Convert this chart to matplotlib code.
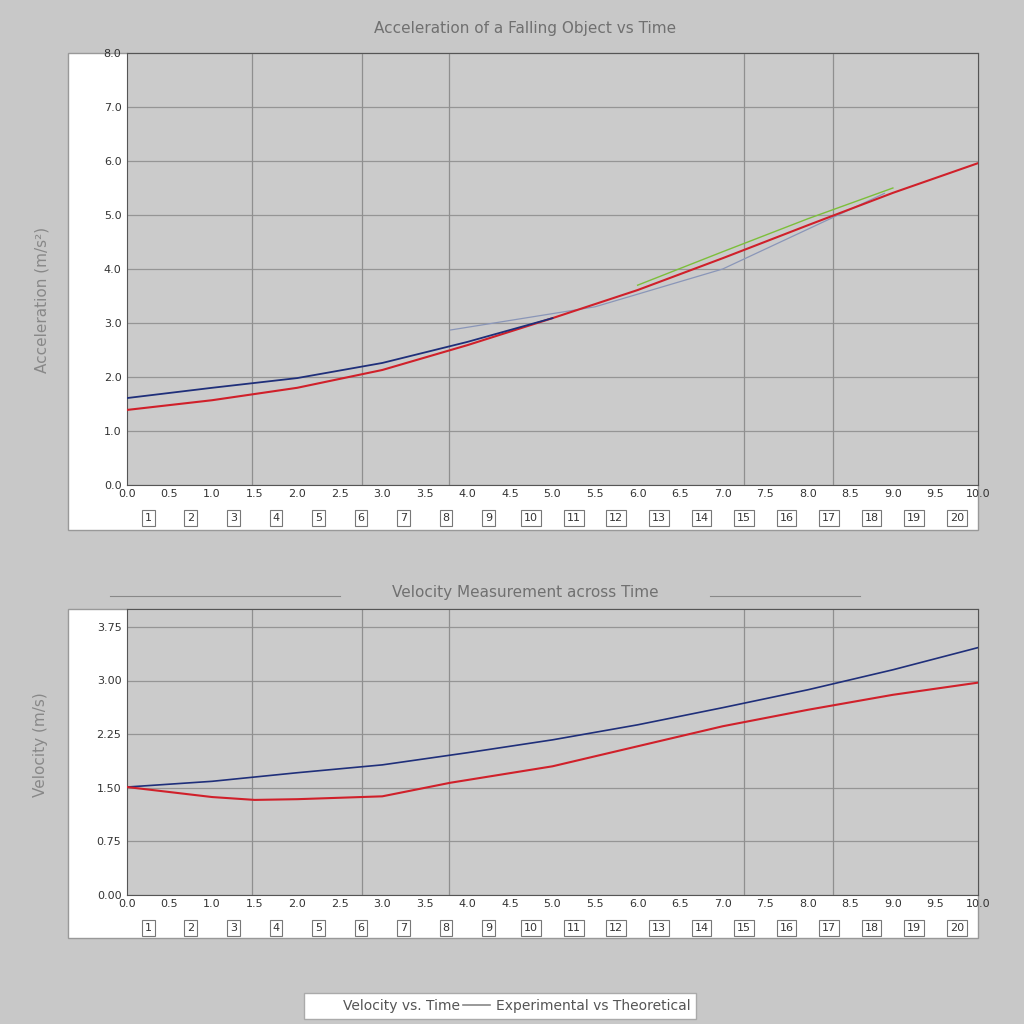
import numpy as np
import matplotlib.pyplot as plt
from matplotlib.patches import Rectangle
from matplotlib.lines import Line2D

BG = '#c8c8c8'
PLOT_BG = '#cbcbcb'
RED = '#d0202a'
BLUE = '#1f2f7a'
GREEN = '#7cbf3a'

# top panel: acceleration
T_RED = [0, 1, 2, 3, 4, 5, 6, 7, 8, 9, 10]
ACC_RED = [1.39, 1.57, 1.80, 2.13, 2.59, 3.09, 3.61, 4.20, 4.81, 5.41, 5.96]
T_BLUE = [0, 1, 2, 3, 4, 5]
ACC_BLUE = [1.61, 1.80, 1.98, 2.26, 2.65, 3.09]
T_GREEN = [6, 7, 8, 9]
ACC_GREEN = [3.70, 4.32, 4.93, 5.50]
T_GREY = [3.8, 5.5, 7.0, 8.9]
ACC_GREY = [2.87, 3.30, 4.00, 5.40]

# bottom panel: velocity
T_VEL = [0, 1, 2, 3, 4, 5, 6, 7, 8, 9, 10]
VEL_BLUE = [1.51, 1.59, 1.71, 1.82, 1.99, 2.17, 2.38, 2.62, 2.87, 3.15, 3.46]
T_VEL_RED = [0, 1, 1.5, 2, 3, 3.8, 5, 6, 7, 8, 9, 10]
VEL_RED = [1.51, 1.37, 1.33, 1.34, 1.38, 1.57, 1.80, 2.08, 2.36, 2.59, 2.80, 2.97]

GRID_T = [1.47, 2.76, 3.78, 7.25, 8.30]
X_TICKS = np.arange(0, 10.01, 0.5)
X_LABELS = ['%.1f' % v for v in X_TICKS]
X_MINOR = np.arange(0.25, 10, 0.5)
X_MINOR_LABELS = ['%d' % (i + 1) for i in range(len(X_MINOR))]

fig = plt.figure(figsize=(10.24, 10.24), dpi=100, facecolor=BG)

def fx(px):
    return px / 1024

def fy(py):
    return 1 - py / 1024

# white frames behind the axes
for (x0, y0, x1, y1) in [(68, 53, 978, 530), (68, 609, 978, 938)]:
    fig.add_artist(Rectangle((fx(x0), fy(y1)), fx(x1 - x0), (y1 - y0) / 1024,
                             transform=fig.transFigure, facecolor='white',
                             edgecolor='#999999', lw=1, zorder=0))

ax1 = fig.add_axes([fx(127), fy(485), fx(851), 432 / 1024])
ax2 = fig.add_axes([fx(127), fy(895), fx(851), 286 / 1024])

for ax in (ax1, ax2):
    ax.set_facecolor(PLOT_BG)
    ax.set_xlim(0, 10)
    for t in GRID_T:
        ax.axvline(t, color='#8f8f8f', lw=0.9, zorder=1)
    ax.grid(axis='y', color='#959595', lw=0.9)
    ax.set_axisbelow(True)
    for s in ax.spines.values():
        s.set_color('#555555')
    ax.set_xticks(X_TICKS)
    ax.set_xticklabels(X_LABELS, fontsize=8, color='#333333')
    ax.set_xticks(X_MINOR, minor=True)
    ax.set_xticklabels(X_MINOR_LABELS, minor=True, fontsize=8, color='#333333')
    ax.tick_params(axis='x', which='major', length=0, pad=3)
    ax.tick_params(axis='x', which='minor', length=0, pad=20)
    for lbl in ax.get_xticklabels(minor=True):
        lbl.set_bbox(dict(facecolor='white', edgecolor='#777777', lw=0.8, pad=2))
    ax.tick_params(axis='y', length=0, labelsize=8, labelcolor='#333333', pad=4)

ax1.set_ylim(0, 8)
ax1.set_yticks(np.arange(0, 8.1, 1))
ax1.set_yticklabels(['%.1f' % v for v in np.arange(0, 8.1, 1)])
ax1.plot(T_GREY, ACC_GREY, color='#8a96b8', lw=0.9, zorder=2)
ax1.plot(T_RED, ACC_RED, color=RED, lw=1.5, zorder=3)
ax1.plot(T_GREEN, ACC_GREEN, color=GREEN, lw=1.0, zorder=3)
ax1.plot(T_BLUE, ACC_BLUE, color=BLUE, lw=1.3, zorder=4)

ax2.set_ylim(0, 4)
ax2.set_yticks(np.arange(0, 3.76, 0.75))
ax2.set_yticklabels(['%.2f' % v for v in np.arange(0, 3.76, 0.75)])
ax2.plot(T_VEL, VEL_BLUE, color=BLUE, lw=1.2, zorder=3)
ax2.plot(T_VEL_RED, VEL_RED, color=RED, lw=1.5, zorder=4)

fig.text(fx(525), fy(28), 'Acceleration of a Falling Object vs Time', ha='center',
         va='center', fontsize=11, color='#707070')
fig.text(fx(525), fy(593), 'Velocity Measurement across Time', ha='center',
         va='center', fontsize=11, color='#707070')
fig.add_artist(Line2D([fx(110), fx(340)], [fy(596), fy(596)], color='#888888', lw=0.8))
fig.add_artist(Line2D([fx(710), fx(860)], [fy(596), fy(596)], color='#888888', lw=0.8))

fig.text(fx(42), fy(300), 'Acceleration (m/s²)', rotation=90, ha='center',
         va='center', fontsize=11, color='#888888')
fig.text(fx(40), fy(745), 'Velocity (m/s)', rotation=90, ha='center',
         va='center', fontsize=11, color='#888888')

handles = [Line2D([], [], color='none'), Line2D([], [], color='#888888', lw=1.2)]
fig.legend(handles, ['Velocity vs. Time', 'Experimental vs Theoretical'], ncol=2,
           loc='center', bbox_to_anchor=(fx(500), fy(1006)), fontsize=10,
           frameon=True, fancybox=False, edgecolor='#aaaaaa', facecolor='white',
           framealpha=1, handlelength=2.0, handletextpad=0.4, columnspacing=0.2,
           labelcolor='#555555')

fig.savefig('out.png', dpi=100, facecolor=BG)
